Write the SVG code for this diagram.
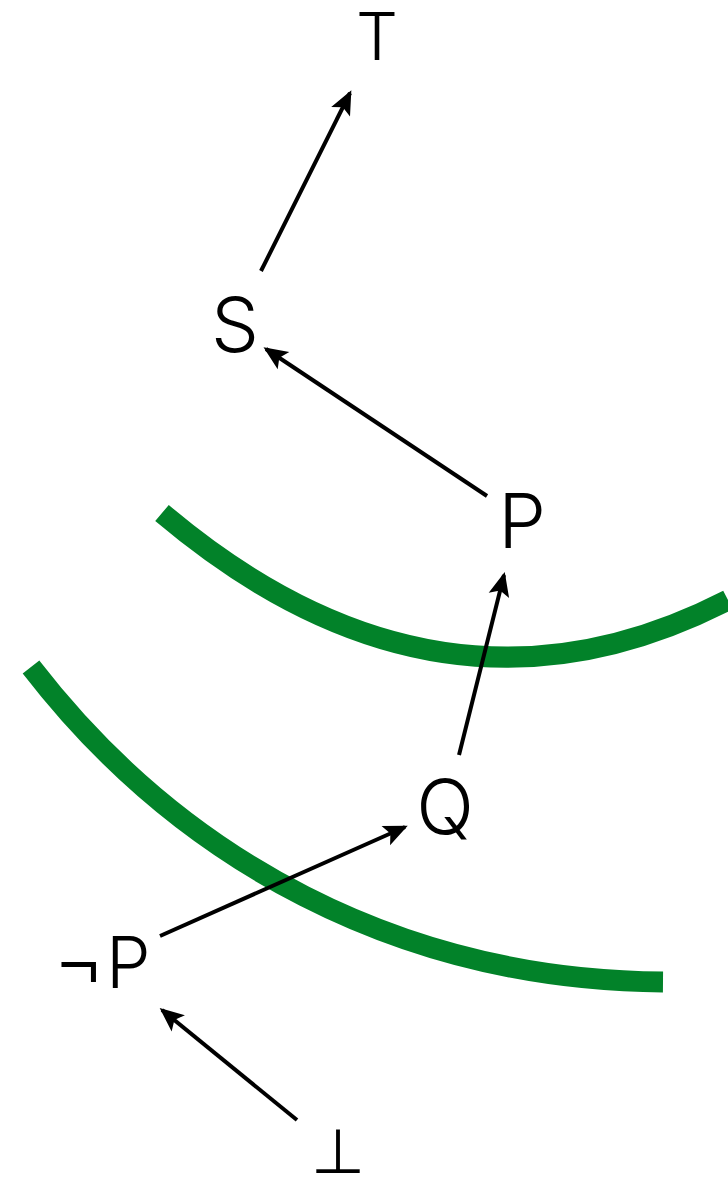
<svg xmlns="http://www.w3.org/2000/svg" width="728" height="1178" viewBox="0 0 728 1178">
<style>
.lbl{font-family:"Inter","Liberation Sans",Arial,sans-serif;font-weight:300;fill:#000;text-anchor:middle}
.edge{stroke:#000;stroke-width:4;fill:none;marker-end:url(#ah)}
.band{stroke:#028229;stroke-width:21;fill:none;stroke-linecap:butt}
</style>
<defs>
<marker id="ah" markerUnits="userSpaceOnUse" markerWidth="30" markerHeight="26" viewBox="-26 -13 30 26" refX="0" refY="0" orient="auto">
<path d="M3,0 L-21,-10.5 L-16,0 L-21,10.5 Z" fill="#000"/>
</marker>
</defs>
<g id="bands">
<path class="band" d="M162,513 Q440,748 728,600"/>
<path class="band" d="M31,667 C180,860 400,980 663,982"/>
</g>
<g id="connectors">
<line class="edge" x1="261" y1="271" x2="350" y2="93"/>
<line class="edge" x1="487" y1="496" x2="266" y2="349"/>
<line class="edge" x1="459" y1="755" x2="504" y2="575"/>
<line class="edge" x1="160" y1="936" x2="405" y2="827"/>
<line class="edge" x1="297" y1="1120" x2="162" y2="1010"/>
</g>
<g id="node-T"><text class="lbl" x="377" y="60" font-size="66">T</text></g>
<g id="node-S"><text class="lbl" x="235" y="352" font-size="76">S</text></g>
<g id="node-P"><text class="lbl" x="522" y="548" font-size="76">P</text></g>
<g id="node-Q"><text class="lbl" x="445" y="834" font-size="76">Q</text></g>
<g id="node-notP"><text class="lbl" y="988" font-size="71" style="text-anchor:start"><tspan x="58" style="font-family:'Liberation Sans',Arial,sans-serif;font-weight:normal">¬</tspan><tspan x="106">P</tspan></text></g>
<g id="node-bottom"><text class="lbl" x="338" y="1173" font-size="62">⊥</text></g>
</svg>
